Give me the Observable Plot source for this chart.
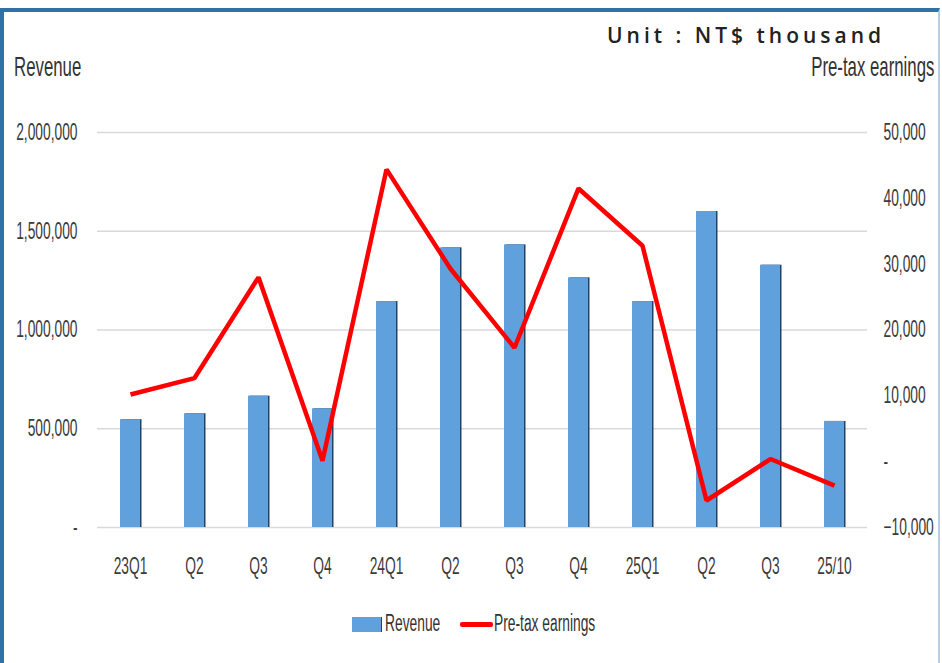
<!DOCTYPE html>
<html>
<head>
<meta charset="utf-8">
<script src="https://cdn.jsdelivr.net/npm/d3@7"></script>
<script src="https://cdn.jsdelivr.net/npm/@observablehq/plot@0.6"></script>
<style>
  html, body { margin: 0; padding: 0; background: #fff; overflow: hidden; }
  #wrap { position: relative; width: 942px; height: 663px; overflow: hidden; }
  #frame { position: absolute; left: 0; top: 8px; width: 940px; height: 700px; box-sizing: border-box;
           border-top: 4px solid #2f72a7; border-left: 4px solid #2f72a7; border-right: 2px solid #b9cde0; }
  #chart { position: absolute; left: 0; top: 0; }
  .cond { position: absolute; font-family: 'Liberation Sans', Arial, sans-serif; white-space: nowrap;
          line-height: 1; color: #333; transform: scaleX(0.6); }
  .unit { position: absolute; font-family: 'Open Sans', 'DejaVu Sans', sans-serif; font-weight: 600;
          font-size: 21px; line-height: 1; letter-spacing: 4px; color: #222; white-space: nowrap; }
</style>
</head>
<body>
<div id="wrap">
  <div id="frame"></div>
  <div id="chart"></div>
  <div class="unit" style="left:607px; top:25px;">Unit : NT$ thousand</div>
  <div class="cond" style="left:14px; top:53px; font-size:28px; transform-origin:left center;">Revenue</div>
  <div class="cond" style="right:8px; top:53px; font-size:28px; transform-origin:right center;">Pre-tax earnings</div>
  <div style="position:absolute; left:352px; top:617px; width:29px; height:15px; background:#5fa0dd; border-right:1.5px solid #27415e;"></div>
  <div class="cond" style="left:385px; top:612px; font-size:23px; transform-origin:left center;">Revenue</div>
  <div style="position:absolute; left:460px; top:622px; width:33px; height:5px; background:#ff0000; border-radius:2px;"></div>
  <div class="cond" style="left:494px; top:612px; font-size:23px; transform-origin:left center;">Pre-tax earnings</div>
</div>
<script>
const periods = ["2023Q1","2023Q2","2023Q3","2023Q4","2024Q1","2024Q2","2024Q3","2024Q4","2025Q1","2025Q2","2025Q3","2025-10"];
const tickLabels = ["23Q1","Q2","Q3","Q4","24Q1","Q2","Q3","Q4","25Q1","Q2","Q3","25/10"];
const revenue = [546000, 576000, 665000, 601000, 1144000, 1416000, 1431000, 1264000, 1144000, 1600000, 1328000, 537000];
const pretaxEarnings = [10200, 12700, 28000, 150, 44400, 29300, 17300, 41500, 32800, -5900, 400, -3650];
const revenueTicks = [0, 500000, 1000000, 1500000, 2000000];
const earningsTicks = [-10000, 0, 10000, 20000, 30000, 40000, 50000];
const revenueMax = 2000000;
const earningsMin = -10000;
const earningsMax = 50000;

const toRev = e => (e - earningsMin) / (earningsMax - earningsMin) * revenueMax;
const fromRev = r => r / revenueMax * (earningsMax - earningsMin) + earningsMin;
const fmt = v => v === 0 ? "-" : d3.format(",")(v);

const data = periods.map((p, i) => ({period: p, label: tickLabels[i], revenue: revenue[i], pretax: pretaxEarnings[i]}));

const plot = Plot.plot({
  width: 942,
  height: 600,
  marginTop: 132,
  marginBottom: 73,
  marginLeft: 97,
  marginRight: 75,
  style: {background: "transparent", fontFamily: "'Liberation Sans', Arial, sans-serif", fontSize: "23px", color: "#3b3b3b", overflow: "visible"},
  x: {domain: periods, paddingInner: 0.69, paddingOuter: 0.345},
  y: {domain: [0, revenueMax]},
  marks: [
    Plot.gridY(revenueTicks, {stroke: "#d9d9d9", strokeOpacity: 1, strokeWidth: 1.5}),
    Plot.barY(data, {x: "period", y: "revenue", fill: "#27415e", dx: 1.5}),
    Plot.barY(data, {x: "period", y: "revenue", fill: "#5fa0dd"}),
    Plot.line(data, {x: "period", y: d => toRev(d.pretax), stroke: "#ff0000", strokeWidth: 4.5, strokeLinejoin: "miter", strokeLinecap: "butt"}),
    Plot.axisY(revenueTicks, {anchor: "left", tickSize: 0, tickPadding: 20, tickFormat: fmt, label: null}),
    Plot.axisY(earningsTicks.map(toRev), {anchor: "right", tickSize: 0, tickPadding: 16, tickFormat: v => fmt(Math.round(fromRev(v))), label: null}),
    Plot.axisX({tickSize: 0, tickPadding: 30, tickFormat: d => tickLabels[periods.indexOf(d)], label: null})
  ]
});

for (const t of plot.querySelectorAll('g[aria-label$="tick label"] text')) {
  const tr = t.getAttribute("transform") || "";
  t.setAttribute("transform", tr + " scale(0.6,1)");
}
document.getElementById("chart").appendChild(plot);
</script>
</body>
</html>
